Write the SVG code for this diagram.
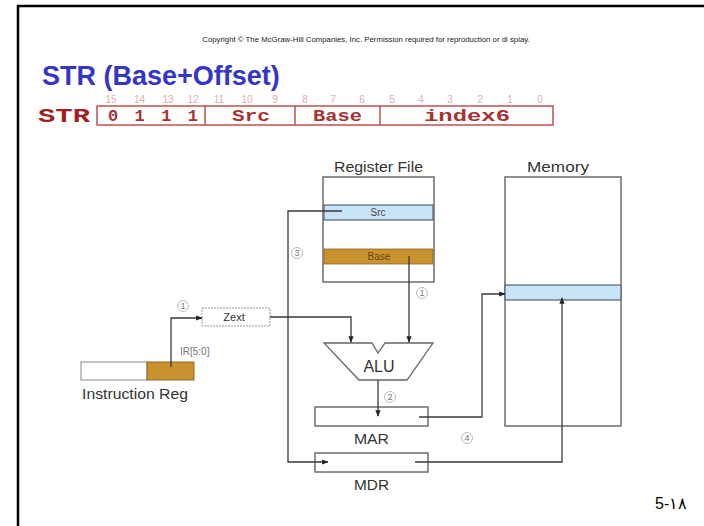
<svg xmlns="http://www.w3.org/2000/svg" width="704" height="526" viewBox="0 0 704 526">
<style>
.lbl{font-family:"Liberation Sans",Arial,sans-serif;fill:#333}
.fmt{font-family:"Liberation Mono","Courier New",monospace;font-weight:bold;fill:#a83232}
.bit{font-family:"Liberation Sans",Arial,sans-serif;font-size:10px;fill:#dbb0b0}
.box{fill:#fff;stroke:#6e6e6e;stroke-width:1.5}
.wire{fill:none;stroke:#3a3a3a;stroke-width:1.3}
.step{font-family:"Liberation Sans",Arial,sans-serif;font-size:9px;fill:#777}
.circ{fill:#fff;stroke:#aaa;stroke-width:0.8}
</style>
<defs>
<marker id="ah" viewBox="0 0 10 10" refX="9" refY="5" markerWidth="5" markerHeight="5" orient="auto"><path d="M0,1 L10,5 L0,9 z" fill="#222"/></marker>
</defs>
<rect x="18" y="6" width="720" height="540" fill="#fff" stroke="#000" stroke-width="2.5"/>
<text x="366" y="42" font-family="Liberation Sans,Arial,sans-serif" font-size="7.8" text-anchor="middle" fill="#222">Copyright © The McGraw-Hill Companies, Inc.  Permission required for reproduction or di splay.</text>
<text x="42" y="85" font-family="Liberation Sans,Arial,sans-serif" font-weight="bold" font-size="27" fill="#3535c8">STR (Base+Offset)</text>
<g id="format">
<text class="fmt" x="38" y="122" font-size="21" textLength="52" lengthAdjust="spacingAndGlyphs" style="fill:#a02020">STR</text>
<rect x="97" y="106" width="456" height="19" fill="#fff" stroke="#c05050" stroke-width="1.5"/>
<line x1="205" y1="106" x2="205" y2="125" stroke="#c05050" stroke-width="1.5"/>
<line x1="295" y1="106" x2="295" y2="125" stroke="#c05050" stroke-width="1.5"/>
<line x1="380" y1="106" x2="380" y2="125" stroke="#c05050" stroke-width="1.5"/>
<text class="fmt" x="108" y="121" font-size="17" textLength="90">0 1 1 1</text>
<text class="fmt" x="232" y="121" font-size="17" textLength="38" lengthAdjust="spacingAndGlyphs">Src</text>
<text class="fmt" x="313" y="121" font-size="17" textLength="49" lengthAdjust="spacingAndGlyphs">Base</text>
<text class="fmt" x="424" y="121" font-size="17" textLength="86" lengthAdjust="spacingAndGlyphs">index6</text>
<text class="bit" x="111" y="103" text-anchor="middle">15</text>
<text class="bit" x="139.5" y="103" text-anchor="middle">14</text>
<text class="bit" x="168" y="103" text-anchor="middle">13</text>
<text class="bit" x="193" y="103" text-anchor="middle">12</text>
<text class="bit" x="219" y="103" text-anchor="middle">11</text>
<text class="bit" x="247" y="103" text-anchor="middle">10</text>
<text class="bit" x="275" y="103" text-anchor="middle">9</text>
<text class="bit" x="305" y="103" text-anchor="middle">8</text>
<text class="bit" x="333" y="103" text-anchor="middle">7</text>
<text class="bit" x="362" y="103" text-anchor="middle">6</text>
<text class="bit" x="392" y="103" text-anchor="middle">5</text>
<text class="bit" x="421" y="103" text-anchor="middle">4</text>
<text class="bit" x="450" y="103" text-anchor="middle">3</text>
<text class="bit" x="480" y="103" text-anchor="middle">2</text>
<text class="bit" x="510" y="103" text-anchor="middle">1</text>
<text class="bit" x="540" y="103" text-anchor="middle">0</text>
</g>
<g id="register-file">
<text class="lbl" x="334" y="172" font-size="14" textLength="89" lengthAdjust="spacingAndGlyphs">Register File</text>
<rect class="box" x="323" y="177" width="111" height="105"/>
<rect x="324" y="205" width="109" height="15" fill="#c6e4f5" stroke="#556070" stroke-width="1.2"/>
<text class="lbl" x="378" y="216" font-size="10" text-anchor="middle" style="fill:#445">Src</text>
<rect x="324" y="249" width="109" height="15" fill="#c8922e" stroke="#8a6a2a" stroke-width="0.8"/>
<text class="lbl" x="379" y="260" font-size="10" text-anchor="middle" style="fill:#6a4a10">Base</text>
</g>
<g id="memory">
<text class="lbl" x="527" y="172" font-size="14" textLength="62" lengthAdjust="spacingAndGlyphs">Memory</text>
<rect class="box" x="505" y="177" width="116" height="249"/>
<rect x="505" y="285" width="116" height="15" fill="#c6e4f5" stroke="#556070" stroke-width="1.2"/>
</g>
<g id="zext">
<rect x="202" y="308" width="68" height="18" fill="#fff" stroke="#999" stroke-width="1" stroke-dasharray="2,1"/>
<text class="lbl" x="234" y="321" font-size="11" text-anchor="middle">Zext</text>
</g>
<g id="instruction-reg">
<rect x="81" y="362" width="66" height="18" fill="#fff" stroke="#888" stroke-width="1"/>
<rect x="147" y="362" width="47" height="18" fill="#c8922e" stroke="#8a6a2a" stroke-width="1"/>
<text class="lbl" x="82" y="399" font-size="14" textLength="106" lengthAdjust="spacingAndGlyphs">Instruction Reg</text>
<text class="lbl" x="180" y="355" font-size="10" style="fill:#777">IR[5:0]</text>
</g>
<g id="alu">
<polygon points="324,343 372,343 378,353 385,343 433,343 407,380 359,380" fill="#fff" stroke="#666" stroke-width="1.3"/>
<text class="lbl" x="379" y="372" font-size="16" text-anchor="middle">ALU</text>
</g>
<g id="mar">
<rect class="box" x="315" y="407" width="113" height="19"/>
<text class="lbl" x="354" y="444" font-size="15" textLength="35" lengthAdjust="spacingAndGlyphs">MAR</text>
</g>
<g id="mdr">
<rect class="box" x="315" y="453" width="113" height="19"/>
<text class="lbl" x="354" y="490" font-size="15" textLength="35" lengthAdjust="spacingAndGlyphs">MDR</text>
</g>
<g id="connectors">
<polyline class="wire" points="342,211 288,211 288,462 328,462" marker-end="url(#ah)"/>
<polyline class="wire" points="409,256 409,342" marker-end="url(#ah)"/>
<polyline class="wire" points="270,317 351,317 351,342" marker-end="url(#ah)"/>
<polyline class="wire" points="171,367 171,318 202,318" marker-end="url(#ah)"/>
<polyline class="wire" points="378,380 378,416" marker-end="url(#ah)"/>
<polyline class="wire" points="419,417 482,417 482,294 505,294" marker-end="url(#ah)"/>
<polyline class="wire" points="415,462 562,462 562,298" marker-end="url(#ah)"/>
</g>
<g id="steps">
<circle class="circ" cx="183" cy="306" r="5.5"/><text class="step" x="183" y="309.2" text-anchor="middle">1</text>
<circle class="circ" cx="297" cy="253" r="5.5"/><text class="step" x="297" y="256.2" text-anchor="middle">3</text>
<circle class="circ" cx="422" cy="293" r="5.5"/><text class="step" x="422" y="296.2" text-anchor="middle">1</text>
<circle class="circ" cx="390" cy="397" r="5.5"/><text class="step" x="390" y="400.2" text-anchor="middle">2</text>
<circle class="circ" cx="467" cy="438" r="5.5"/><text class="step" x="467" y="441.2" text-anchor="middle">4</text>
</g>
<text x="655" y="509" font-family="Liberation Sans,Arial,sans-serif" font-size="16" fill="#000">5-١٨</text>
</svg>
